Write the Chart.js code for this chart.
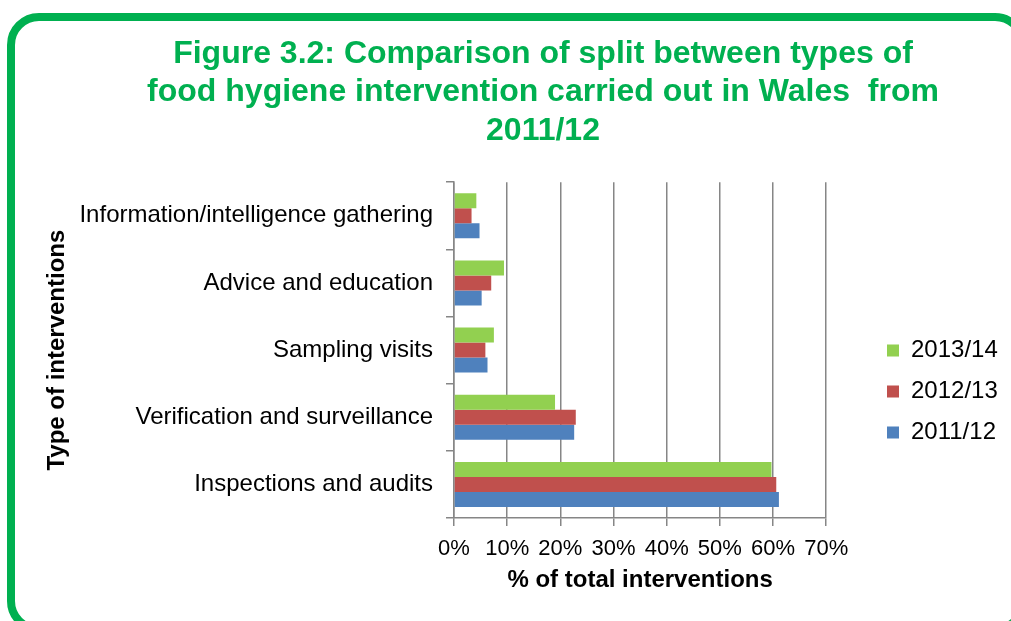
<!DOCTYPE html>
<html>
<head>
<meta charset="utf-8">
<script src="https://cdn.jsdelivr.net/npm/chart.js@4/dist/chart.umd.min.js"></script>
<style>
  html, body { margin: 0; padding: 0; background: #ffffff; overflow: hidden; }
  #wrap { position: relative; width: 1011px; height: 621px; overflow: hidden; }
  #frame { position: absolute; left: 7px; top: 13px; width: 1020px; height: 620px; box-sizing: border-box;
           border: 8px solid #00B050; border-radius: 32px; z-index: 0; }
  #c { position: absolute; left: 0; top: 0; z-index: 1; }
</style>
</head>
<body>
<div id="wrap">
  <div id="frame"></div>
  <canvas id="c" width="1011" height="621"></canvas>
</div>
<script>
// ---- data ----
const categories = [
  'Information/intelligence gathering',
  'Advice and education',
  'Sampling visits',
  'Verification and surveillance',
  'Inspections and audits'
];
const seriesNames = ['2013/14', '2012/13', '2011/12'];
const values2013_14 = [4.2, 9.4, 7.5, 19.0, 59.7];
const values2012_13 = [3.3, 7.0, 5.9, 22.9, 60.6];
const values2011_12 = [4.8, 5.2, 6.3, 22.6, 61.1];
const xTickMin = 0, xTickMax = 70, xTickStep = 10;
const titleLines = [
  'Figure 3.2: Comparison of split between types of',
  'food hygiene intervention carried out in Wales  from',
  '2011/12'
];
const xAxisTitle = '% of total interventions';
const yAxisTitle = 'Type of interventions';

// ---- styling ----
const FONT = "'Liberation Sans', Arial, Helvetica, sans-serif";
Chart.defaults.font.family = FONT;
Chart.defaults.color = '#000000';
const GRID = '#868686';

const nudge = {
  id: 'nudge',
  afterLayout(chart) {
    const t = chart.titleBlock;
    if (t) {
      const dx = 543 - (t.left + t.right) / 2;
      t.left += dx; t.right += dx;
    }
    const l = chart.legend;
    if (l) {
      const pad = l.options.labels.padding;
      const dx = 887 - (l.left + pad);
      l.left += dx; l.right += dx;
      l.top += 81; l.bottom += 81;
    }
  }
};

new Chart(document.getElementById('c'), {
  type: 'bar',
  data: {
    labels: categories,
    datasets: [
      { label: seriesNames[0], data: values2013_14, backgroundColor: '#92D050' },
      { label: seriesNames[1], data: values2012_13, backgroundColor: '#C0504D' },
      { label: seriesNames[2], data: values2011_12, backgroundColor: '#4F81BD' }
    ]
  },
  options: {
    indexAxis: 'y',
    responsive: false,
    animation: false,
    events: [],
    categoryPercentage: 0.67,
    barPercentage: 1.0,
    layout: { padding: { left: 0, right: 47, top: 0, bottom: 0 } },
    scales: {
      x: {
        min: xTickMin, max: xTickMax,
        ticks: { stepSize: xTickStep, callback: v => v + '%', font: { size: 22 }, color: '#000', padding: 10 },
        grid: { color: GRID, lineWidth: 1.5, tickLength: 8, drawOnChartArea: true, drawTicks: true },
        border: { display: true, color: GRID, width: 1.5 },
        title: { display: true, text: xAxisTitle, font: { size: 24, weight: 'bold' }, color: '#000',
                 padding: { top: 0, bottom: 26 } },
        afterFit(scale) { scale.height = 103; }
      },
      y: {
        ticks: { font: { size: 24 }, color: '#000', padding: 13 },
        grid: { color: GRID, lineWidth: 1.5, tickLength: 8, drawOnChartArea: false, drawTicks: true, offset: true },
        border: { display: true, color: GRID, width: 1.5 },
        title: { display: true, text: yAxisTitle, font: { size: 24, weight: 'bold' }, color: '#000',
                 padding: { top: 43, bottom: 0 } },
        afterFit(scale) { scale.width = 454; }
      }
    },
    plugins: {
      title: {
        display: true,
        text: titleLines,
        color: '#00B050',
        font: { size: 32, weight: 'bold', lineHeight: 1.2 },
        padding: { top: 35, bottom: 32 }
      },
      legend: {
        display: true,
        position: 'right',
        labels: { boxWidth: 12, boxHeight: 12, padding: 17, font: { size: 24 }, color: '#000' }
      },
      tooltip: { enabled: false }
    }
  },
  plugins: [nudge]
});
</script>
</body>
</html>
